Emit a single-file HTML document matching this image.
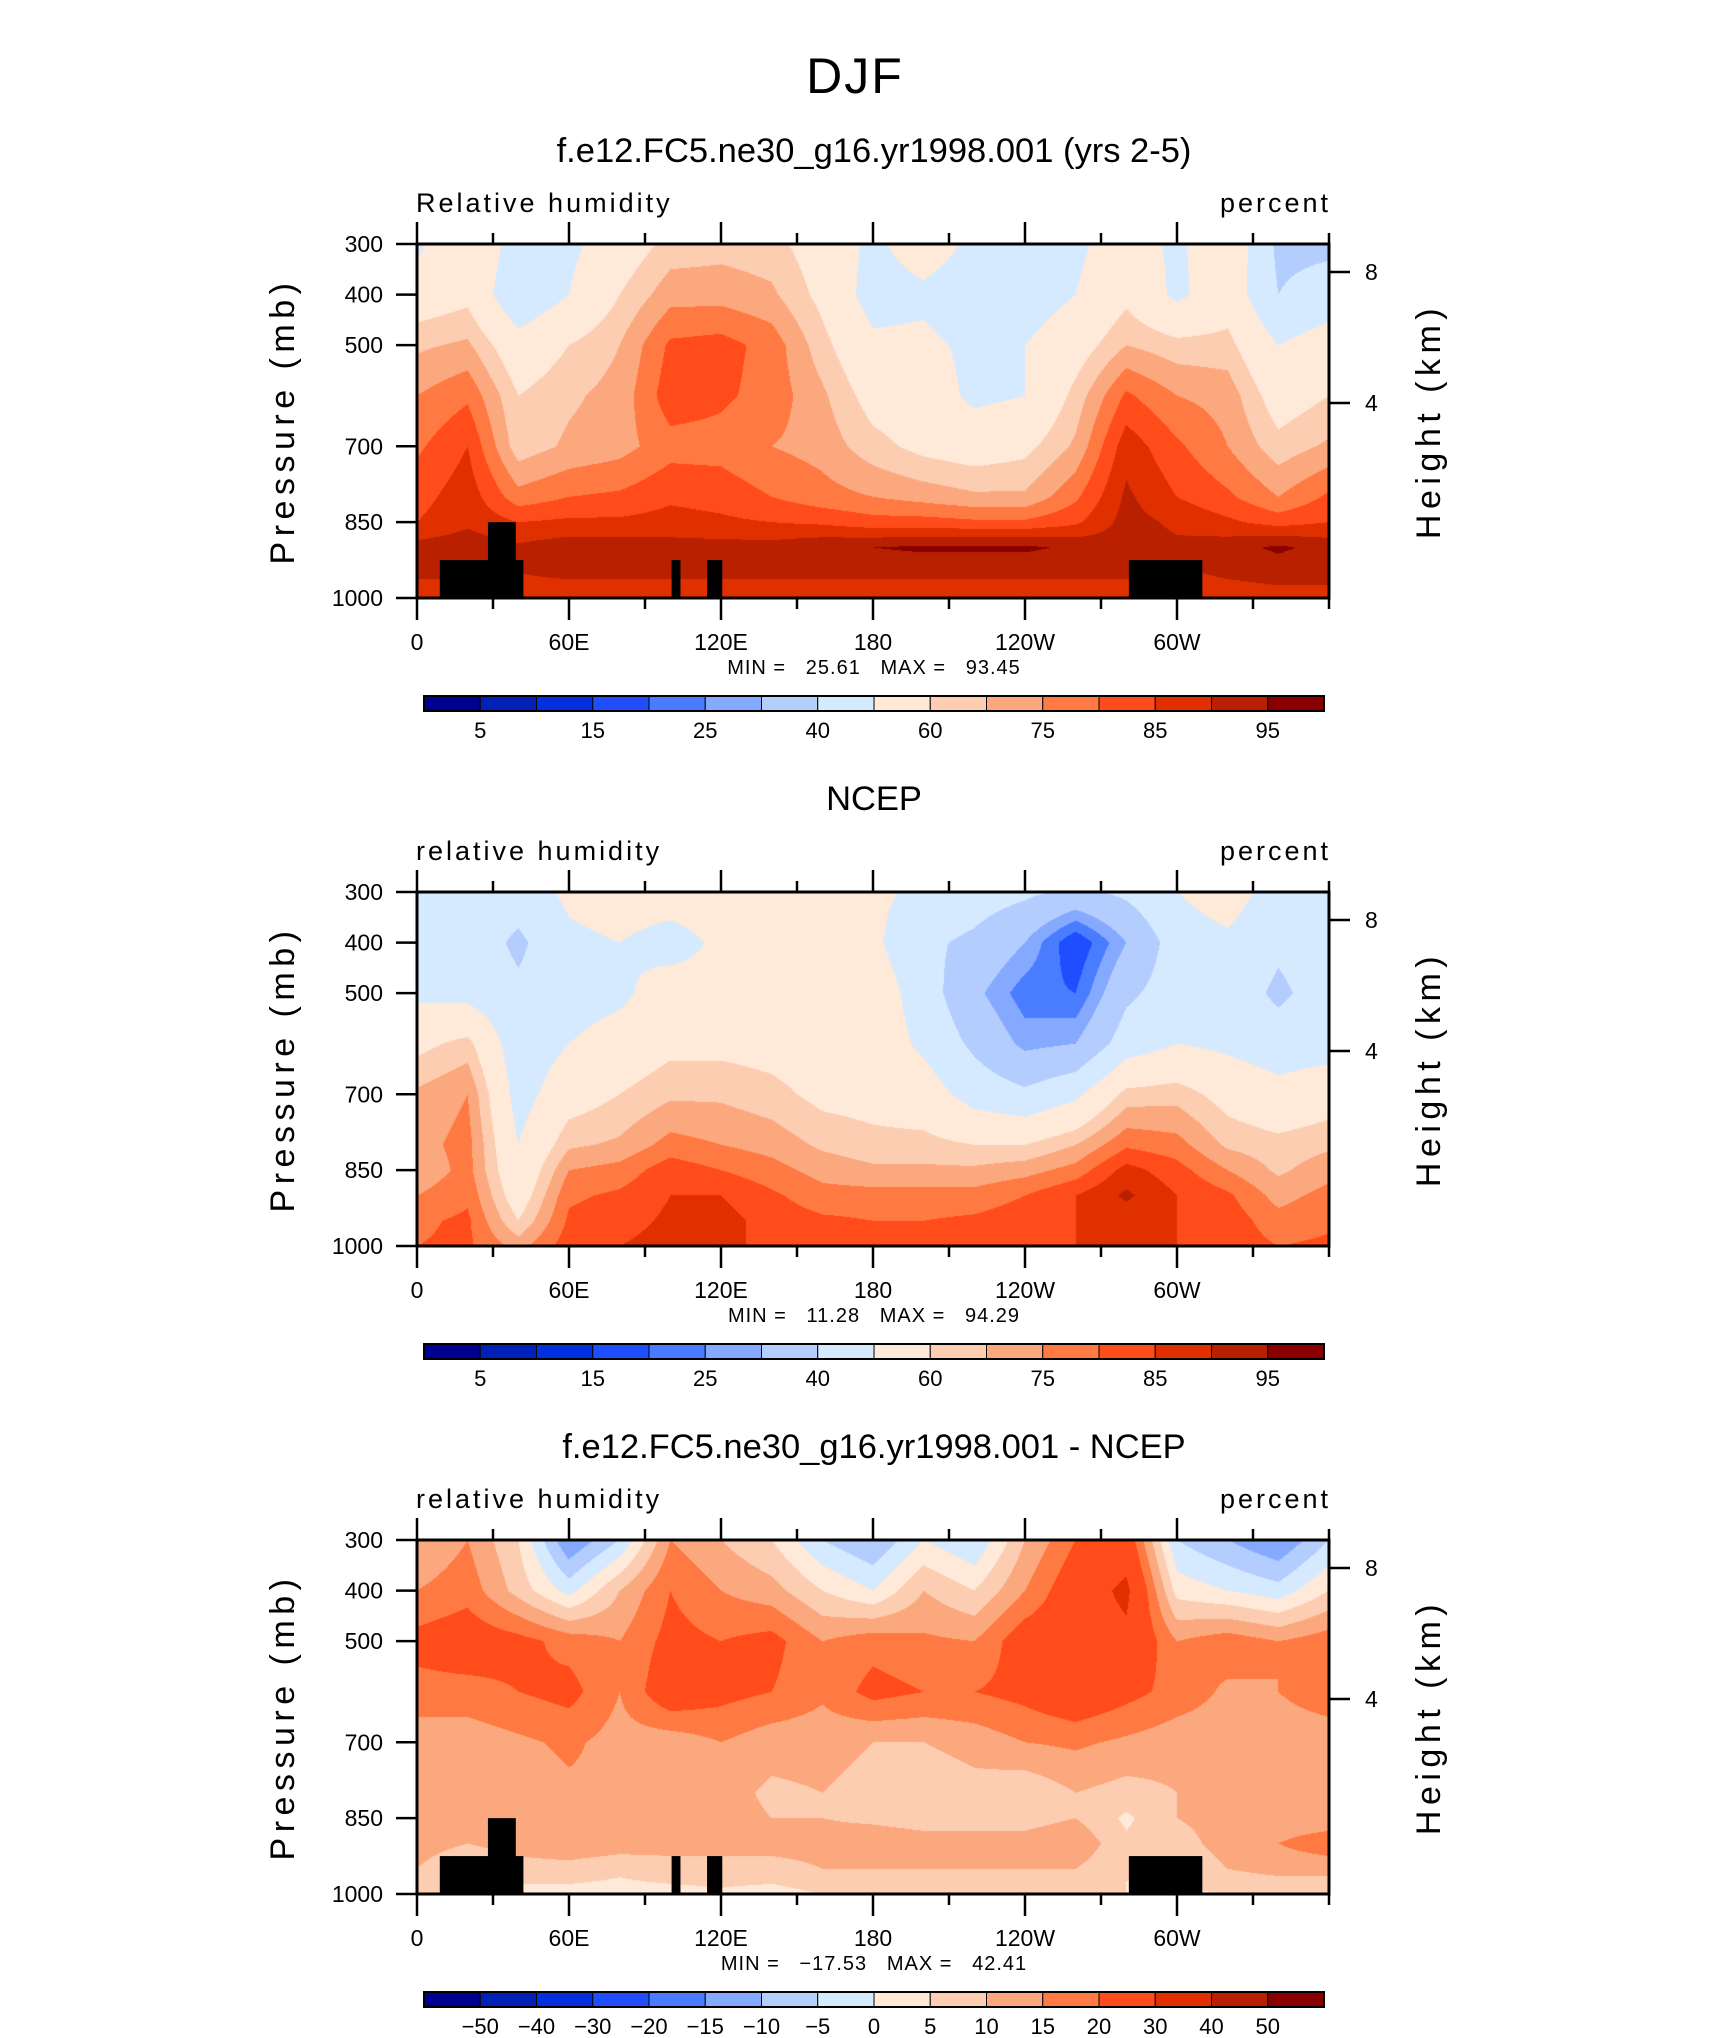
<!DOCTYPE html>
<html><head><meta charset="utf-8">
<style>
body{margin:0;background:#fff;width:1710px;height:2038px;overflow:hidden;position:relative;font-family:"Liberation Sans",sans-serif}
canvas{position:absolute}
svg{position:absolute;left:0;top:0}
text{font-family:"Liberation Sans",sans-serif;fill:#000}
.pre{white-space:pre}
</style></head><body>
<canvas id="c0" style="left:417px;top:244px" width="912" height="354"></canvas>
<canvas id="c1" style="left:417px;top:892px" width="912" height="354"></canvas>
<canvas id="c2" style="left:417px;top:1540px" width="912" height="354"></canvas>
<svg id="svg" width="1710" height="2038"></svg>
<script>
const lons=[0,20,40,60,80,100,120,140,160,180,200,220,240,260,280,300,320,340,360];
const levels=[300,400,500,600,700,800,850,900,950,1000];
// model RH: rows = levels, columns = lons
const modelRH=[
[48,60,45,48,55,62,63,62,56,48,55,48,48,48,55,48,58,38,38],
[55,58,42,50,60,68,68,66,58,46,48,44,45,50,58,48,56,40,44],
[64,66,54,60,65,76,77,73,62,52,52,48,50,56,65,62,62,50,55],
[70,74,60,64,67,78,76,73,66,57,55,48,50,62,76,70,68,56,60],
[74,80,62,66,68,73,73,70,68,62,58,56,58,66,83,76,70,62,66],
[78,83,72,75,76,79,78,75,72,70,68,66,66,74,86,80,76,70,76],
[80,84,80,81,81,82,81,80,79,77,77,76,76,79,87,84,81,78,80],
[87,88,86,88,88,87,87,87,89,90,91,91,91,89,87,86,88,91,88],
[86,86,85,86,86,86,86,86,86,86,86,86,86,86,86,84,86,87,87],
[82,82,83,82,82,82,82,82,82,82,82,82,82,82,82,82,82,83,83]];
const ncepRH=[
[45,48,45,52,55,55,55,55,55,52,48,45,42,38,42,50,55,45,48],
[42,46,38,48,50,46,52,55,52,52,42,38,30,15,30,45,48,42,45],
[48,47,42,46,48,55,52,55,55,56,45,32,22,20,38,45,46,38,45],
[58,62,44,50,54,58,58,57,55,56,48,38,28,30,45,50,48,45,46],
[66,70,46,56,60,64,64,62,58,57,55,46,42,48,62,63,57,53,56],
[68,72,50,64,66,72,70,68,64,62,62,60,60,65,74,72,64,62,64],
[66,72,52,70,72,78,75,72,68,66,66,66,68,72,82,77,70,64,68],
[70,74,55,74,76,80,80,76,72,72,72,72,75,80,86,80,76,68,72],
[74,76,60,76,78,81,82,78,76,75,75,76,78,80,82,80,78,72,74],
[75,76,68,78,80,82,80,80,78,77,77,77,79,80,80,80,78,75,76]];
const diffRH=[
[10,15,5,-15,-5,15,10,5,-5,-10,0,-5,10,20,25,-5,-10,-15,-5],
[15,18,8,-2,10,20,15,12,5,0,10,5,15,25,32,3,0,-3,5],
[22,24,22,18,15,22,20,22,15,18,16,15,24,25,28,15,18,15,18],
[18,18,20,22,15,25,22,20,16,22,20,20,22,26,22,18,14,15,18],
[12,12,14,16,13,12,15,12,12,10,10,12,15,16,14,12,12,12,12],
[15,10,12,14,14,10,12,9,10,8,6,8,6,10,8,10,12,12,12],
[15,12,12,14,13,10,12,10,10,9,8,8,8,10,4,10,12,12,12],
[12,10,12,14,13,12,12,12,12,13,12,12,12,14,6,8,12,15,18],
[10,6,8,8,6,8,8,8,10,10,10,10,10,10,5,6,10,12,12],
[6,4,3,3,3,3,4,3,5,5,5,5,5,5,5,4,5,5,5]];
// topography mask blocks: [lonStart, lonEnd, topPressure]
const maskLon0=[9,28,100.5,114.5,281];
const maskLon1=[42,39,104,120.5,310];
const maskTop=[925,850,925,925,925];
const rhBounds=[5,10,15,20,25,30,40,50,60,65,70,75,80,85,90];
const diffBounds=[-50,-40,-30,-20,-15,-10,-5,0,5,10,15,20,30,40,50];
const rhLabels=["5","15","25","40","60","75","85","95"];
const diffLabels=["\u221250","\u221240","\u221230","\u221220","\u221215","\u221210","\u22125","0","5","10","15","20","30","40","50"];
const colors=["#000090","#0020b8","#0030e0","#1f4eff","#4a7cff","#85a9ff","#b4cdff","#d6eaff","#ffe9d8","#fdcdb2","#fca87f","#ff7a42","#ff4c1a","#e03000","#b82000","#8a0000"];
const xTickLabels=["0","60E","120E","180","120W","60W"];
const minmax=[["25.61","93.45"],["11.28","94.29"],["\u221217.53","42.41"]];
const titles=["f.e12.FC5.ne30_g16.yr1998.001 (yrs 2-5)","NCEP","f.e12.FC5.ne30_g16.yr1998.001 - NCEP"];
const leftTitles=["Relative humidity","relative humidity","relative humidity"];

const PX=417,PW=912,PH=354,TOPS=[244,892,1540];
function xScale(lon){return PX+lon/360*PW;}
function yScale(p,top){return top+(p-300)/700*PH;}
function hex(c){return [parseInt(c.substr(1,2),16),parseInt(c.substr(3,2),16),parseInt(c.substr(5,2),16)];}
const rgb=colors.map(hex);
function bin(v,b){let i=0;while(i<b.length&&v>=b[i])i++;return i;}
function sample(g,lon,p){
  let i=Math.min(Math.floor(lon/20),lons.length-2);let fx=(lon-lons[i])/20;
  let j=0;while(j<levels.length-2&&p>levels[j+1])j++;
  let fy=(p-levels[j])/(levels[j+1]-levels[j]);
  const a=g[j][i],b=g[j][i+1],c=g[j+1][i],d=g[j+1][i+1];
  return a*(1-fx)*(1-fy)+b*fx*(1-fy)+c*(1-fx)*fy+d*fx*fy;
}
[[modelRH,rhBounds],[ncepRH,rhBounds],[diffRH,diffBounds]].forEach((pair,k)=>{
  const cv=document.getElementById('c'+k),ctx=cv.getContext('2d');
  const im=ctx.createImageData(PW,PH);
  for(let y=0;y<PH;y++){const p=300+(y+0.5)/PH*700;
    for(let x=0;x<PW;x++){const lon=(x+0.5)/PW*360;
      const col=rgb[bin(sample(pair[0],lon,p),pair[1])];const o=(y*PW+x)*4;
      im.data[o]=col[0];im.data[o+1]=col[1];im.data[o+2]=col[2];im.data[o+3]=255;}}
  ctx.putImageData(im,0,0);
});
const svg=document.getElementById('svg');const NS="http://www.w3.org/2000/svg";
function el(tag,attrs,parent){const e=document.createElementNS(NS,tag);for(const k in attrs)e.setAttribute(k,attrs[k]);(parent||svg).appendChild(e);return e;}
function txt(s,attrs,parent){const t=el('text',attrs,parent);t.textContent=s;return t;}
let t0=txt("DJF",{x:855,y:93,'font-size':50,'text-anchor':'middle','letter-spacing':2});


const yTicks=[300,400,500,700,850,1000];
for(let k=0;k<3;k++){
  const T=TOPS[k];
  const g=el('g',{});
  
  
  let tt=txt(titles[k],{x:874,y:T-82,'font-size':34.5,'text-anchor':'middle'},g);
  
  
  let lt=txt(leftTitles[k],{x:416,y:T-32,'font-size':27,'letter-spacing':3},g);
  
  
  let ut=txt("percent",{x:1331,y:T-32,'font-size':27,'text-anchor':'end','letter-spacing':3},g);
  
  
  if(k!==1){for(let m=0;m<maskLon0.length;m++){
    const r=el('rect',{x:xScale(maskLon0[m]),y:yScale(maskTop[m],T),width:xScale(maskLon1[m])-xScale(maskLon0[m]),height:yScale(1000,T)-yScale(maskTop[m],T),fill:'#000'},g);
    
    }}
  const fr=el('rect',{x:PX,y:T,width:PW,height:PH,fill:'none',stroke:'#000','stroke-width':3},g);
  
  
  for(let lon=0;lon<=360;lon+=30){const x=xScale(lon);const major=lon%60===0&&lon<360;const L=major?22:11;
    el('line',{x1:x,x2:x,y1:T,y2:T-L,stroke:'#000','stroke-width':2.5},g);
    el('line',{x1:x,x2:x,y1:T+PH,y2:T+PH+L,stroke:'#000','stroke-width':2.5},g);}
  xTickLabels.forEach((s,i)=>{const l=txt(s,{x:xScale(i*60),y:T+PH+52,'font-size':23,'text-anchor':'middle'},g);
    
    });
  yTicks.forEach(p=>{const y=yScale(p,T);el('line',{x1:PX-21,x2:PX,y1:y,y2:y,stroke:'#000','stroke-width':2.5},g);
    const l=txt(String(p),{x:383,y:y+8,'font-size':23,'text-anchor':'end'},g);
    
    });
  [[8,28],[4,159]].forEach(h=>{const y=T+h[1];el('line',{x1:PX+PW,x2:PX+PW+21,y1:y,y2:y,stroke:'#000','stroke-width':2.5},g);
    const l=txt(String(h[0]),{x:1365,y:y+8,'font-size':23},g);
    
    });
  const ya=txt("Pressure (mb)",{x:0,y:0,'font-size':34,'text-anchor':'middle','letter-spacing':5.5,transform:`translate(294,${T+177}) rotate(-90)`},g);
  
  
  const ha=txt("Height (km)",{x:0,y:0,'font-size':34,'text-anchor':'middle','letter-spacing':5.5,transform:`translate(1440,${T+177}) rotate(-90)`},g);
  
  
  const mm=txt(`MIN =   ${minmax[k][0]}   MAX =   ${minmax[k][1]}`,{x:874,y:T+430,'font-size':20,'text-anchor':'middle','letter-spacing':1,'class':'pre'},g);
  
  
  const cb=el('g',{},g);
  
  
  const bx=424,bw=900/16,by=T+452;
  colors.forEach((c,i)=>{const r=el('rect',{x:bx+i*bw,y:by,width:bw,height:15,fill:c,stroke:'#000','stroke-width':1},cb);
    
    });
  el('rect',{x:bx,y:by,width:900,height:15,fill:'none',stroke:'#000','stroke-width':2},cb);
  if(k<2){rhLabels.forEach((s,i)=>{const l=txt(s,{x:bx+(2*i+1)*bw,y:by+42,'font-size':22,'text-anchor':'middle'},cb);
    
    });}
  else{diffLabels.forEach((s,i)=>{const l=txt(s,{x:bx+(i+1)*bw,y:by+42,'font-size':22,'text-anchor':'middle'},cb);
    
    });}
}
</script>
</body></html>
